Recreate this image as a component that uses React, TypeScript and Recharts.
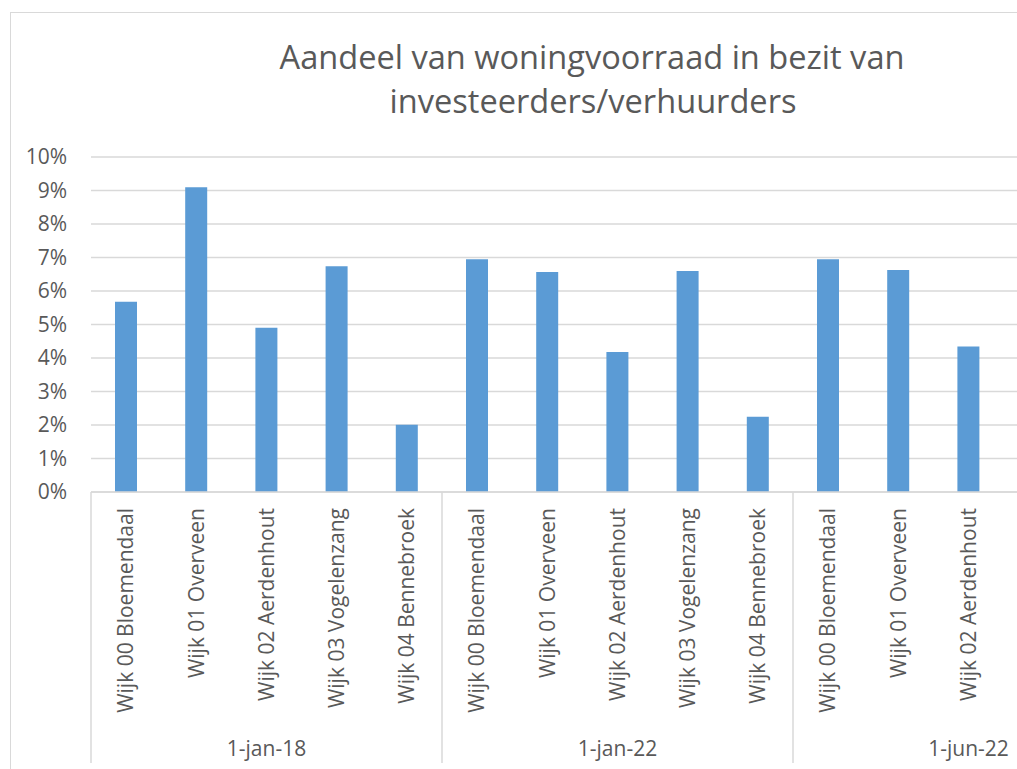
import React from "react";
import { BarChart, Bar, XAxis, YAxis, CartesianGrid } from "recharts";

const titleLines = ["Aandeel van woningvoorraad in bezit van", "investeerders/verhuurders"];
const groups = ["1-jan-18", "1-jan-22", "1-jun-22"];
const wijken = [
  "Wijk 00 Bloemendaal",
  "Wijk 01 Overveen",
  "Wijk 02 Aerdenhout",
  "Wijk 03 Vogelenzang",
  "Wijk 04 Bennebroek",
];
const valuesJan18 = [5.68, 9.1, 4.9, 6.74, 2.01];
const valuesJan22 = [6.95, 6.57, 4.18, 6.6, 2.25];
// the last two categories of 1-jun-22 lie outside the visible crop
const valuesJun22: (number | null)[] = [6.95, 6.63, 4.34, null, null];
const yTicks = [0, 1, 2, 3, 4, 5, 6, 7, 8, 9, 10];

const seriesByGroup = [valuesJan18, valuesJan22, valuesJun22];
const data = groups.flatMap((g, gi) =>
  wijken.map((w, wi) => ({
    id: `${g}|${w}`,
    group: g,
    name: w,
    first: wi === 0,
    middle: wi === Math.floor(wijken.length / 2),
    value: seriesByGroup[gi][wi],
  }))
);

const FONT = "'Open Sans', 'Noto Sans', sans-serif";
const TEXT = "#595959";
const GRID = "#d9d9d9";

function CatTick(props: any) {
  const { x, y, payload, index } = props;
  const i = payload?.index ?? index;
  const d = data[i];
  const off = payload?.offset ?? 35.1;
  if (!d) return null;
  return (
    <g>
      {d.value != null && (
        <text
          transform={`translate(${x},${y + 16}) rotate(-90)`}
          textAnchor="end"
          dy="0.35em"
          fontSize={21}
          fontFamily={FONT}
          fill={TEXT}
        >
          {d.name}
        </text>
      )}
      {d.first && (
        <line x1={x - off} x2={x - off} y1={y} y2={y + 271} stroke={GRID} strokeWidth={1.5} />
      )}
      {i === data.length - 1 && (
        <line x1={x + off} x2={x + off} y1={y} y2={y + 271} stroke={GRID} strokeWidth={1.5} />
      )}
      {d.middle && (
        <text x={x} y={y + 264} textAnchor="middle" fontSize={21} fontFamily={FONT} fill={TEXT}>
          {d.group}
        </text>
      )}
    </g>
  );
}

export default function App() {
  return (
    <div
      style={{
        position: "absolute",
        left: 0,
        top: 0,
        width: 1017,
        height: 769,
        overflow: "hidden",
        background: "#fff",
      }}
    >
      <div
        style={{
          position: "absolute",
          left: 10,
          top: 12,
          width: 1164,
          height: 800,
          border: `1px solid ${GRID}`,
        }}
      />
      <div style={{ position: "absolute", left: 0, top: 0 }}>
        <BarChart
          width={1180}
          height={800}
          data={data}
          margin={{ top: 157, right: 36, left: 0, bottom: 0 }}
        >
          <CartesianGrid vertical={false} stroke={GRID} strokeWidth={1.5} />
          <YAxis
            type="number"
            domain={[0, 10]}
            ticks={yTicks}
            interval={0}
            width={91}
            axisLine={false}
            tickLine={false}
            tickSize={0}
            tickMargin={24}
            tickFormatter={(v: number) => `${v}%`}
            tick={{ fill: TEXT, fontSize: 21, fontFamily: FONT }}
          />
          <XAxis
            dataKey="id"
            type="category"
            interval={0}
            height={308}
            tickLine={false}
            tickSize={0}
            tickMargin={0}
            axisLine={{ stroke: GRID, strokeWidth: 1.5 }}
            tick={<CatTick />}
          />
          <Bar dataKey="value" fill="#5b9bd5" barSize={22} isAnimationActive={false} />
        </BarChart>
      </div>
      <svg
        width={1017}
        height={140}
        style={{ position: "absolute", left: 0, top: 0, pointerEvents: "none" }}
      >
        <text x={592} y={69} textAnchor="middle" fontSize={32.6} fontFamily={FONT} fill={TEXT}>
          {titleLines[0]}
        </text>
        <text x={593} y={113} textAnchor="middle" fontSize={32.6} fontFamily={FONT} fill={TEXT}>
          {titleLines[1]}
        </text>
      </svg>
    </div>
  );
}
